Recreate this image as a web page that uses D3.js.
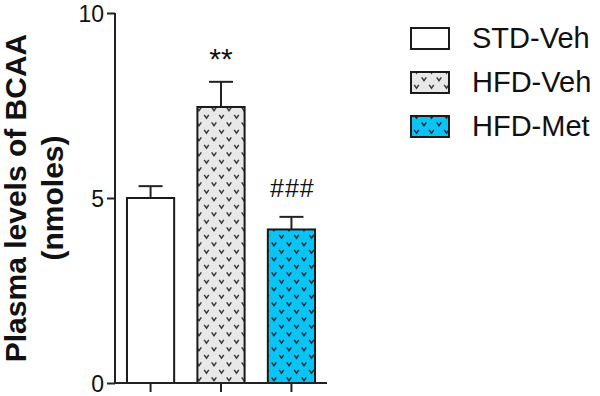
<!DOCTYPE html>
<html>
<head>
<meta charset="utf-8">
<script src="https://cdn.jsdelivr.net/npm/d3@7"></script>
<style>
  html, body { margin: 0; padding: 0; background: #fff; }
  svg { display: block; }
  text { font-family: Arial, "Liberation Sans", Helvetica, sans-serif; }
</style>
</head>
<body>
<svg id="chart" width="600" height="396"></svg>
<script>
const categories = ["STD-Veh", "HFD-Veh", "HFD-Met"];
const means = [5.0, 7.46, 4.15];
const sems = [0.32, 0.68, 0.34];
const annotations = ["", "**", "###"];
const yTicks = [0, 5, 10];
const fills = ["#ffffff", "url(#patGray)", "url(#patBlue)"];

const svg = d3.select("#chart");
const defs = svg.append("defs");

function makePattern(id, bg, mark) {
  const p = defs.append("pattern")
    .attr("id", id)
    .attr("patternUnits", "userSpaceOnUse")
    .attr("width", 15).attr("height", 15)
    .attr("x", 0).attr("y", 0);
  p.append("rect").attr("width", 15).attr("height", 15).attr("fill", bg);
  [[4, 4], [11.5, 11.5]].forEach(([cx, cy]) => {
    p.append("path")
      .attr("d", `M${cx-2.3},${cy-1.6} L${cx},${cy+1.7} L${cx+2.3},${cy-1.6}`)
      .attr("fill", "none").attr("stroke", mark).attr("stroke-width", 1.5);
  });
}
makePattern("patGray", "#e8e8e8", "#3a3a3a");
makePattern("patBlue", "#0cc4f4", "#1b3040");

const y = d3.scaleLinear().domain([0, 10]).range([383, 13]);
const x = d3.scaleBand().domain(categories).range([115, 327])
  .paddingInner(0.33).paddingOuter(0.17);

// error bars (upper only)
const g = svg.append("g");
categories.forEach((c, i) => {
  const cx = x(c) + x.bandwidth() / 2;
  g.append("line")
    .attr("x1", cx).attr("x2", cx)
    .attr("y1", y(means[i])).attr("y2", y(means[i] + sems[i]))
    .attr("stroke", "#222").attr("stroke-width", 2);
  g.append("line")
    .attr("x1", cx - 12).attr("x2", cx + 12)
    .attr("y1", y(means[i] + sems[i])).attr("y2", y(means[i] + sems[i]))
    .attr("stroke", "#222").attr("stroke-width", 2);
});

// bars
g.selectAll("rect.bar").data(categories).join("rect")
  .attr("class", "bar")
  .attr("x", d => x(d))
  .attr("y", (d, i) => y(means[i]))
  .attr("width", x.bandwidth())
  .attr("height", (d, i) => y(0) - y(means[i]))
  .attr("fill", (d, i) => fills[i])
  .attr("stroke", "#1a1a1a").attr("stroke-width", 2);

// annotations
svg.append("text").attr("x", x(categories[1]) + x.bandwidth() / 2).attr("y", 69)
  .attr("text-anchor", "middle").attr("font-size", 30).attr("fill", "#111")
  .text(annotations[1]);
svg.append("text").attr("x", x(categories[2]) + x.bandwidth() / 2 + 1).attr("y", 197)
  .attr("text-anchor", "middle").attr("font-size", 25).attr("letter-spacing", 1)
  .attr("fill", "#111").text(annotations[2]);

// y axis
const yAxis = svg.append("g").attr("transform", "translate(115,0)")
  .call(d3.axisLeft(y).tickValues(yTicks).tickSize(8).tickPadding(3).tickFormat(d3.format("d")));
yAxis.select(".domain").attr("d", `M0,${y(10)}V${y(0)}`).attr("stroke", "#222").attr("stroke-width", 2);
yAxis.selectAll(".tick line").attr("stroke", "#222").attr("stroke-width", 2);
yAxis.selectAll(".tick text").attr("font-size", 23).attr("fill", "#111")
  .attr("font-family", "Arial, 'Liberation Sans', sans-serif").attr("dy", "0.35em");

// x axis
const xAxis = svg.append("g").attr("transform", `translate(0,${y(0)})`)
  .call(d3.axisBottom(x).tickSize(9).tickFormat(""));
xAxis.select(".domain").attr("d", `M115,0H327`).attr("stroke", "#222").attr("stroke-width", 2);
xAxis.selectAll(".tick line").attr("stroke", "#222").attr("stroke-width", 2);

// y label
const yl = svg.append("text")
  .attr("transform", "translate(26,198) rotate(-90)")
  .attr("text-anchor", "middle").attr("font-size", 30).attr("font-weight", "bold").attr("fill", "#111");
yl.append("tspan").attr("x", 0).attr("y", 0).text("Plasma levels of BCAA");
yl.append("tspan").attr("x", 0).attr("y", 37).text("(nmoles)");

// legend
const legTops = [28, 72, 116];
const leg = svg.append("g");
categories.forEach((c, i) => {
  leg.append("rect").attr("x", 411).attr("y", legTops[i])
    .attr("width", 38).attr("height", 21)
    .attr("fill", fills[i]).attr("stroke", "#1a1a1a").attr("stroke-width", 2);
  leg.append("text").attr("x", 472).attr("y", legTops[i] + 20)
    .attr("font-size", 29).attr("fill", "#111").text(c);
});
</script>
</body>
</html>
